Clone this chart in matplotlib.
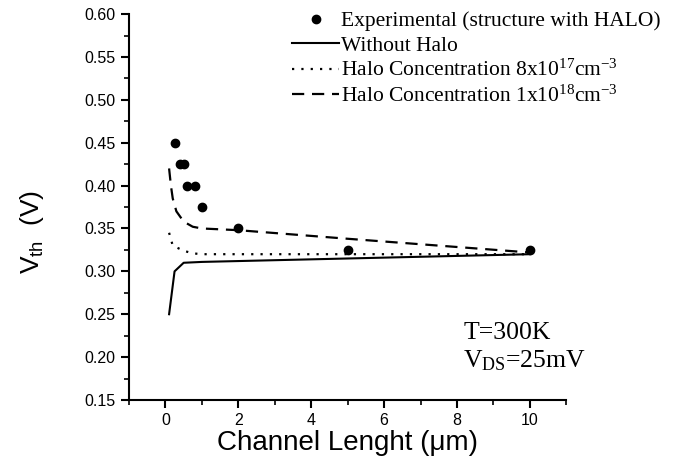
import numpy as np
import matplotlib
matplotlib.use("Agg")
import matplotlib.pyplot as plt
from matplotlib.ticker import MultipleLocator

# experimental points (structure with halo)
exp_L = [0.25, 0.4, 0.5, 0.6, 0.8, 1.0, 2.0, 5.0, 10.0]
exp_V = [0.45, 0.425, 0.425, 0.40, 0.40, 0.375, 0.35, 0.325, 0.325]

# simulation without halo
noh_L = [0.1, 0.25, 0.5, 1.0, 2.0, 5.0, 10.0]
noh_V = [0.25, 0.30, 0.31, 0.311, 0.312, 0.315, 0.32]

# halo 8e17
h17_L = [0.1, 0.2, 0.3, 0.5, 0.75, 1.0, 2.0, 5.0, 10.0]
h17_V = [0.345, 0.33, 0.328, 0.324, 0.321, 0.32, 0.32, 0.32, 0.32]

# halo 1e18
h18_L = [0.1, 0.15, 0.2, 0.3, 0.5, 0.75, 1.0, 2.0, 5.0, 10.0]
h18_V = [0.42, 0.40, 0.385, 0.37, 0.358, 0.352, 0.35, 0.348, 0.338, 0.322]

sans = "Liberation Sans"
serif = "Liberation Serif"

fig = plt.figure(figsize=(6.79, 4.70), dpi=100)
ax = fig.add_axes([0.190, 0.149, 0.644, 0.821])

ax.plot(exp_L, exp_V, "o", color="black", markersize=6,
        label="Experimental (structure with HALO)")
ax.plot(noh_L, noh_V, "-", color="black", lw=1.5, label="Without Halo")
ax.plot(h17_L, h17_V, color="black", lw=1.6, linestyle=(0, (1, 3.2)),
        label=r"Halo Concentration 8x10$\mathregular{^{17}}$cm$\mathregular{^{-3}}$")
ax.plot(h18_L, h18_V, color="black", lw=1.6, linestyle=(0, (5.5, 3.5)),
        label=r"Halo Concentration 1x10$\mathregular{^{18}}$cm$\mathregular{^{-3}}$")

ax.set_xlim(-1, 11)
ax.set_ylim(0.15, 0.60)
ax.xaxis.set_minor_locator(MultipleLocator(1))
ax.yaxis.set_major_locator(MultipleLocator(0.05))
ax.yaxis.set_minor_locator(MultipleLocator(0.025))
ax.set_xticks([0, 2, 4, 6, 8, 10])
ax.yaxis.set_major_formatter(matplotlib.ticker.FormatStrFormatter("%.2f"))

for s in ["top", "right"]:
    ax.spines[s].set_visible(False)
for s in ["left", "bottom"]:
    ax.spines[s].set_linewidth(1.5)
ax.tick_params(which="major", direction="out", length=6, width=1.5,
               labelsize=11.5)
ax.tick_params(which="minor", direction="out", length=3.5, width=1.2)
for lab in ax.get_xticklabels() + ax.get_yticklabels():
    lab.set_family(sans)

ax.set_xlabel("Channel Lenght (\u03bcm)", family=sans, fontsize=20, labelpad=1)
ax.set_ylabel(r"V$\mathregular{_{th}}$  (V)", family=sans, fontsize=19)
ax.yaxis.set_label_coords(-0.19, 0.435)

leg = ax.legend(loc="upper right", bbox_to_anchor=(1.235, 1.03), frameon=False,
                prop={"family": serif, "size": 15.5}, handlelength=2.15,
                handletextpad=0.1, labelspacing=0.2, borderaxespad=0)

ax.text(8.17, 0.221, "T=300K", family=serif, fontsize=18.5)
ax.text(8.17, 0.188, r"V$\mathregular{_{DS}}$=25mV", family=serif, fontsize=18.5)

fig.savefig("out.png", dpi=100)
